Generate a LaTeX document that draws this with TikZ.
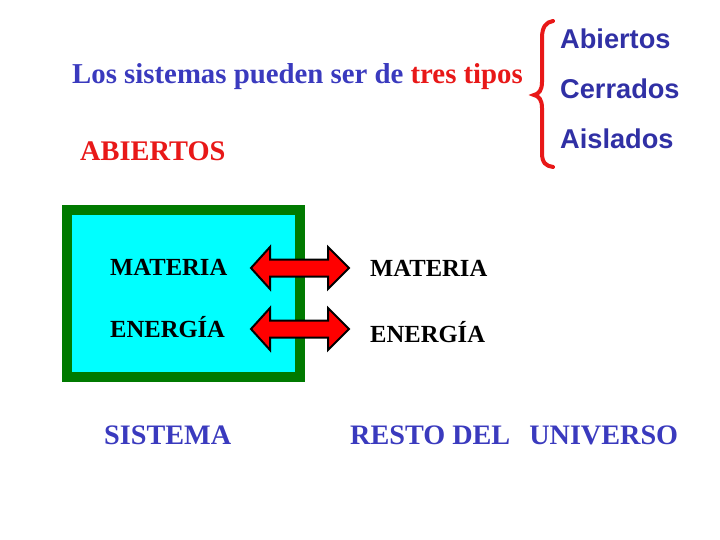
\documentclass[tikz,border=0pt]{standalone}
\usepackage{fontspec}
\setmainfont{Liberation Serif}
\newfontfamily\arialfont{Liberation Sans}
\definecolor{tblue}{RGB}{58,58,190}
\definecolor{lblue}{RGB}{48,48,165}
\definecolor{tred}{RGB}{232,24,24}
\definecolor{bgreen}{RGB}{0,122,0}
\definecolor{bcyan}{RGB}{0,255,255}
\tikzset{
  lbl/.style={inner sep=0pt, anchor=base west, font=\bfseries},
  listitem/.style={inner sep=0pt, anchor=base west, text=lblue, font=\arialfont\bfseries\fontsize{27.2}{30}\selectfont},
  dblarrow/.style={fill=red, draw=black, line width=2pt, line join=miter},
}
\begin{document}
\begin{tikzpicture}[x=1pt,y=-1pt]
\useasboundingbox (0,0) rectangle (720,540);
% title
\node[lbl, text=tblue, font=\bfseries\fontsize{28.8}{32}\selectfont] (title) at (72,84) {Los sistemas pueden ser de \textcolor{tred}{tres tipos}};
\node[lbl, text=tred, font=\bfseries\fontsize{28.4}{32}\selectfont] (abiertos) at (80,161) {ABIERTOS};
% brace
\draw[tred, line width=4pt, line cap=round]
  (553,21) .. controls (546,22) and (542,27) .. (542,38) -- (542,82)
  .. controls (542,90) and (539,94) .. (534,95)
  .. controls (539,96) and (542,100) .. (542,108) -- (542,153)
  .. controls (542,163) and (546,166) .. (553,167);
\node[listitem] (l1) at (560,49) {Abiertos};
\node[listitem] (l2) at (560,99) {Cerrados};
\node[listitem] (l3) at (560,149) {Aislados};
% system box
\draw[bgreen, line width=10pt, fill=bcyan] (67,210) rectangle (300,377);
% arrows
\draw[dblarrow] (251,268) -- (270,247) -- (270,259.5) -- (328,259.5) -- (328,247) -- (349,268)
  -- (328,289) -- (328,276.5) -- (270,276.5) -- (270,289) -- cycle;
\draw[dblarrow] (251,329) -- (270,308) -- (270,320.5) -- (328,320.5) -- (328,308) -- (349,329)
  -- (328,350) -- (328,337.5) -- (270,337.5) -- (270,350) -- cycle;
% labels
\node[lbl, font=\bfseries\fontsize{24.6}{28}\selectfont] (mat1) at (110,275) {MATERIA};
\node[lbl, font=\bfseries\fontsize{24.6}{28}\selectfont] (ene1) at (110,337) {ENERGÍA};
\node[lbl, font=\bfseries\fontsize{24.6}{28}\selectfont] (mat2) at (370,276) {MATERIA};
\node[lbl, font=\bfseries\fontsize{24.6}{28}\selectfont] (ene2) at (370,342) {ENERGÍA};
\node[lbl, text=tblue, font=\bfseries\fontsize{28.2}{32}\selectfont] (sis) at (104,444) {SISTEMA};
\node[lbl, text=tblue, font=\bfseries\fontsize{28.2}{32}\selectfont] (resto) at (350,444) {RESTO DEL\hspace{19pt}UNIVERSO};
\end{tikzpicture}
\end{document}
